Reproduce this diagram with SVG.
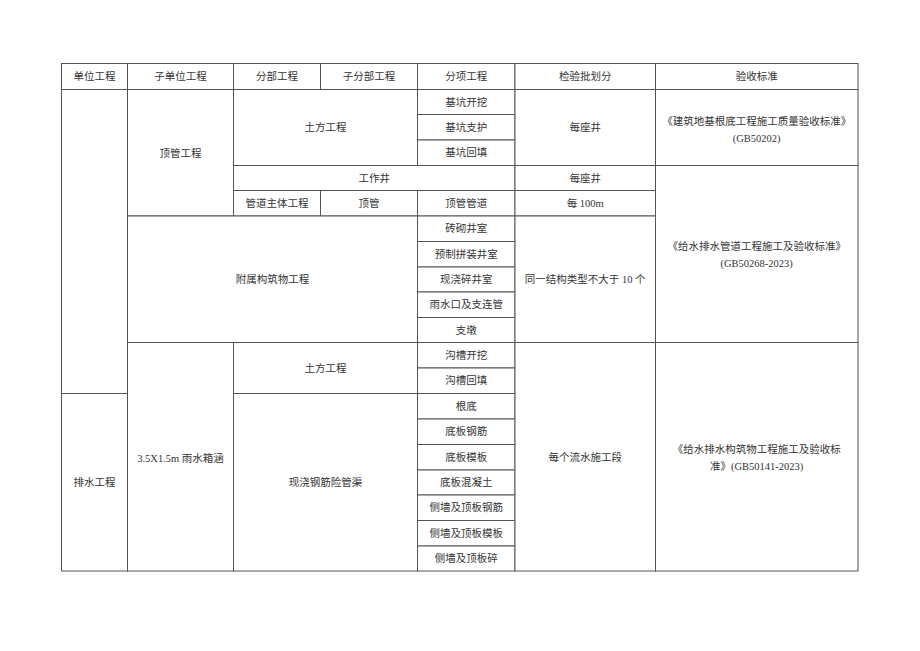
<svg xmlns="http://www.w3.org/2000/svg" width="920" height="651" viewBox="0 0 920 651">
<style>
.c{fill:#fff;stroke:#555;stroke-width:1}
text{font-family:"Liberation Serif","Noto Sans CJK SC",serif;font-size:10.5px;fill:#333;text-anchor:middle;dominant-baseline:central}
</style>
<rect width="920" height="651" fill="#fff"/>
<g id="header">
<g id="h0"><rect class="c" x="61.5" y="63.5" width="66" height="26"/><text x="94.5" y="76.5">单位工程</text></g>
<g id="h1"><rect class="c" x="127.5" y="63.5" width="106" height="26"/><text x="180.5" y="76.5">子单位工程</text></g>
<g id="h2"><rect class="c" x="233.5" y="63.5" width="87" height="26"/><text x="277" y="76.5">分部工程</text></g>
<g id="h3"><rect class="c" x="320.5" y="63.5" width="97" height="26"/><text x="369" y="76.5">子分部工程</text></g>
<g id="h4"><rect class="c" x="417.5" y="63.5" width="97.5" height="26"/><text x="466.2" y="76.5">分项工程</text></g>
<g id="h5"><rect class="c" x="515" y="63.5" width="140.5" height="26"/><text x="585.2" y="76.5">检验批划分</text></g>
<g id="h6"><rect class="c" x="655.5" y="63.5" width="202.5" height="26"/><text x="756.7" y="76.5">验收标准</text></g>
</g>
<g id="col0">
<g id="u1"><rect class="c" x="61.5" y="89.5" width="66" height="304"/></g>
<g id="u2"><rect class="c" x="61.5" y="393.5" width="66" height="177.5"/><text x="94.5" y="482.5">排水工程</text></g>
</g>
<g id="col1">
<g id="s1"><rect class="c" x="127.5" y="89.5" width="106" height="126.5"/><text x="180.5" y="153">顶管工程</text></g>
<g id="s2"><rect class="c" x="127.5" y="342.5" width="106" height="228.5"/><text x="180.5" y="458">3.5X1.5m 雨水箱涵</text></g>
</g>
<g id="col2">
<g id="d1"><rect class="c" x="233.5" y="89.5" width="184" height="76"/><text x="325.5" y="127.5">土方工程</text></g>
<g id="d2"><rect class="c" x="233.5" y="165.5" width="281.5" height="25"/><text x="374.2" y="178">工作井</text></g>
<g id="d3"><rect class="c" x="233.5" y="190.5" width="87" height="25.5"/><text x="277" y="203.2">管道主体工程</text></g>
<g id="d4"><rect class="c" x="320.5" y="190.5" width="97" height="25.5"/><text x="369" y="203.2">顶管</text></g>
<g id="d5"><rect class="c" x="127.5" y="216" width="290" height="126.5"/><text x="272.5" y="279.2">附属构筑物工程</text></g>
<g id="d6"><rect class="c" x="233.5" y="342.5" width="184" height="51"/><text x="325.5" y="368">土方工程</text></g>
<g id="d7"><rect class="c" x="233.5" y="393.5" width="184" height="177.5"/><text x="325.5" y="482.5">现浇钢筋险管渠</text></g>
</g>
<g id="col4">
<g id="i1"><rect class="c" x="417.5" y="89.5" width="97.5" height="25"/><text x="466.2" y="102">基坑开挖</text></g>
<g id="i2"><rect class="c" x="417.5" y="114.5" width="97.5" height="25.5"/><text x="466.2" y="127.2">基坑支护</text></g>
<g id="i3"><rect class="c" x="417.5" y="140" width="97.5" height="25.5"/><text x="466.2" y="152.7">基坑回填</text></g>
<g id="i4"><rect class="c" x="417.5" y="190.5" width="97.5" height="25.5"/><text x="466.2" y="203.2">顶管管道</text></g>
<g id="i5"><rect class="c" x="417.5" y="216" width="97.5" height="25.5"/><text x="466.2" y="228.7">砖砌井室</text></g>
<g id="i6"><rect class="c" x="417.5" y="241.5" width="97.5" height="25.5"/><text x="466.2" y="254.2">预制拼装井室</text></g>
<g id="i7"><rect class="c" x="417.5" y="267" width="97.5" height="25"/><text x="466.2" y="279.5">现浇碎井室</text></g>
<g id="i8"><rect class="c" x="417.5" y="292" width="97.5" height="25.5"/><text x="466.2" y="304.7">雨水口及支连管</text></g>
<g id="i9"><rect class="c" x="417.5" y="317.5" width="97.5" height="25"/><text x="466.2" y="330">支墩</text></g>
<g id="i10"><rect class="c" x="417.5" y="342.5" width="97.5" height="25.5"/><text x="466.2" y="355.2">沟槽开挖</text></g>
<g id="i11"><rect class="c" x="417.5" y="368" width="97.5" height="25.5"/><text x="466.2" y="380.7">沟槽回填</text></g>
<g id="i12"><rect class="c" x="417.5" y="393.5" width="97.5" height="25.5"/><text x="466.2" y="406.2">根底</text></g>
<g id="i13"><rect class="c" x="417.5" y="419" width="97.5" height="25.5"/><text x="466.2" y="431.7">底板钢筋</text></g>
<g id="i14"><rect class="c" x="417.5" y="444.5" width="97.5" height="25.5"/><text x="466.2" y="457.2">底板模板</text></g>
<g id="i15"><rect class="c" x="417.5" y="470" width="97.5" height="25"/><text x="466.2" y="482.5">底板混凝土</text></g>
<g id="i16"><rect class="c" x="417.5" y="495" width="97.5" height="25.5"/><text x="466.2" y="507.7">侧墙及顶板钢筋</text></g>
<g id="i17"><rect class="c" x="417.5" y="520.5" width="97.5" height="25.5"/><text x="466.2" y="533.2">侧墙及顶板模板</text></g>
<g id="i18"><rect class="c" x="417.5" y="546" width="97.5" height="25"/><text x="466.2" y="558.5">侧墙及顶板碎</text></g>
</g>
<g id="col5">
<g id="b1"><rect class="c" x="515" y="89.5" width="140.5" height="76"/><text x="585.2" y="127.5">每座井</text></g>
<g id="b2"><rect class="c" x="515" y="165.5" width="140.5" height="25"/><text x="585.2" y="178">每座井</text></g>
<g id="b3"><rect class="c" x="515" y="190.5" width="140.5" height="25.5"/><text x="585.2" y="203.2">每 100m</text></g>
<g id="b4"><rect class="c" x="515" y="216" width="140.5" height="126.5"/><text x="585.2" y="279.2">同一结构类型不大于 10 个</text></g>
<g id="b5"><rect class="c" x="515" y="342.5" width="140.5" height="228.5"/><text x="585.2" y="457.5">每个流水施工段</text></g>
</g>
<g id="col6">
<g id="g1"><rect class="c" x="655.5" y="89.5" width="202.5" height="76"/><text x="756.7" y="121.5">《建筑地基根底工程施工质量验收标准》</text><text x="756.7" y="138.5">(GB50202)</text></g>
<g id="g2"><rect class="c" x="655.5" y="165.5" width="202.5" height="177"/><text x="756.7" y="246.5">《给水排水管道工程施工及验收标准》</text><text x="756.7" y="263.5">(GB50268-2023)</text></g>
<g id="g3"><rect class="c" x="655.5" y="342.5" width="202.5" height="228.5"/><text x="756.7" y="449">《给水排水构筑物工程施工及验收标</text><text x="756.7" y="466.5">准》(GB50141-2023)</text></g>
</g>
<g id="connectors"/>
</svg>
